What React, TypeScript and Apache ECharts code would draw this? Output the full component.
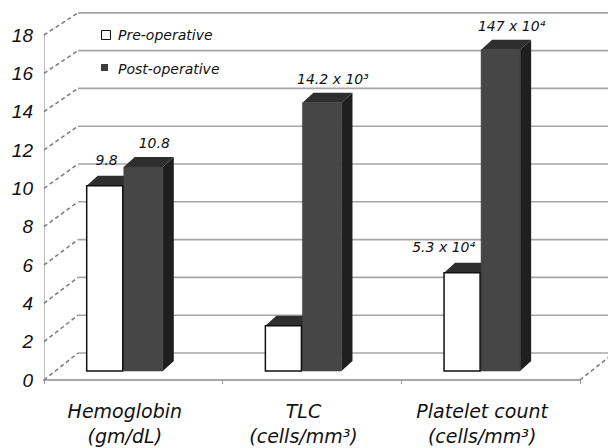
import React, { useEffect, useRef } from "react";
import * as echarts from "echarts";

const categories = ["Hemoglobin\n(gm/dL)", "TLC\n(cells/mm³)", "Platelet count\n(cells/mm³)"];
const seriesNames = ["Pre-operative", "Post-operative"];
const preOperative = [9.8, 2.4, 5.2];
const postOperative = [10.8, 14.2, 17.0];
const preLabels = ["9.8", "", "5.3 x 10⁴"];
const postLabels = ["10.8", "14.2 x 10³", "147 x 10⁴"];
const yTicks = [0, 2, 4, 6, 8, 10, 12, 14, 16, 18];

const FONT = '"DejaVu Sans", "Liberation Sans", sans-serif';
const AXIS_FONT = '"Liberation Sans", "DejaVu Sans", sans-serif';
const WALL_DX = 34;
const WALL_DY = -27;
const BACK_K = 0.986;
const BAR_DY = -9;
const BOX_DX = 11;
const BOX_DY = -10;

function wallItem(params: any, api: any) {
  const cs = params.coordSys;
  const v = api.value(1);
  const zero = api.coord([0, 0])[1];
  const fy = api.coord([0, v])[1];
  const bx = cs.x + WALL_DX;
  const by = zero + WALL_DY - (zero - fy) * BACK_K;
  const right = cs.x + cs.width + WALL_DX;
  const dashed = { stroke: "#7a7a7a", lineWidth: 1.5, lineDash: [4, 3], fill: null };
  const children: any[] = [
    { type: "line", shape: { x1: cs.x, y1: fy, x2: bx, y2: by }, style: dashed },
    { type: "line", shape: { x1: bx, y1: by, x2: right, y2: by }, style: { stroke: "#a6a6a6", lineWidth: 1.6 } },
  ];
  if (v === 0) {
    children.push({ type: "line", shape: { x1: cs.x + cs.width, y1: fy, x2: right, y2: by }, style: dashed });
  }
  return { type: "group", children };
}

function boxItem(isPre: boolean, labels: string[]) {
  return (params: any, api: any) => {
    const idx = api.value(0);
    const v = api.value(1);
    const [cx, zero] = api.coord([idx, 0]);
    const fy = api.coord([idx, v])[1];
    const band = api.size([1, 0])[0];
    const gc = cx - band * 0.048;
    const half = band * 0.213;
    const x0 = isPre ? gc - half : gc - 1;
    const x1 = isPre ? gc - 2 : gc + half;
    const yb = zero + BAR_DY;
    const yt = yb - (zero - fy) * BACK_K;
    const children: any[] = [
      {
        type: "polygon",
        shape: { points: [[x1, yt], [x1 + BOX_DX, yt + BOX_DY], [x1 + BOX_DX, yb + BOX_DY], [x1, yb]] },
        style: { fill: "#1f1f1f" },
      },
      {
        type: "polygon",
        shape: { points: [[x0, yt], [x1, yt], [x1 + BOX_DX, yt + BOX_DY], [x0 + BOX_DX, yt + BOX_DY]] },
        style: { fill: "#2e2e2e" },
      },
      {
        type: "rect",
        shape: { x: x0, y: yt, width: x1 - x0, height: yb - yt },
        style: isPre
          ? { fill: "#ffffff", stroke: "#111111", lineWidth: 1.5 }
          : { fill: "#464646", stroke: "#3a3a3a", lineWidth: 0.5 },
      },
    ];
    const text = labels[idx];
    if (text) {
      children.push({
        type: "text",
        style: {
          text,
          x: isPre ? x1 - 5 : (x0 + x1) / 2 + 11,
          y: yt + BOX_DY - (isPre ? 16 : 14),
          align: isPre ? "right" : "center",
          verticalAlign: "middle",
          fontSize: 14,
          fontStyle: "italic",
          fontFamily: FONT,
          fill: "#111",
        },
      });
    }
    return { type: "group", children };
  };
}

export default function App() {
  const ref = useRef<HTMLDivElement>(null);
  useEffect(() => {
    if (!ref.current) return;
    const chart = echarts.init(ref.current, undefined, { renderer: "svg" });
    const textBase = { fontFamily: FONT, fontStyle: "italic" as const, color: "#111" };
    chart.setOption({
      animation: false,
      backgroundColor: "#ffffff",
      grid: { left: 44, right: 28, top: 35, bottom: 67, containLabel: false },
      xAxis: {
        type: "category",
        data: categories,
        axisLine: { show: true, lineStyle: { color: "#a8a8a8", width: 2 } },
        axisTick: { show: true, length: 4, lineStyle: { color: "#999" } },
        axisLabel: { ...textBase, fontSize: 19, lineHeight: 25, margin: 18, padding: [0, 17, 0, 0] },
        splitLine: { show: false },
      },
      yAxis: {
        type: "value",
        min: 0,
        max: 18,
        interval: 2,
        axisLine: { show: true, lineStyle: { color: "#bdbdbd", width: 1 } },
        axisTick: { show: false },
        axisLabel: { fontFamily: AXIS_FONT, fontStyle: "italic", color: "#111", fontSize: 19, margin: 11 },
        splitLine: { show: false },
      },
      graphic: [
        {
          type: "rect",
          shape: { x: 101.5, y: 30.5, width: 9, height: 9 },
          style: { fill: "#fff", stroke: "#111", lineWidth: 1 },
        },
        {
          type: "rect",
          shape: { x: 101, y: 64, width: 7, height: 7 },
          style: { fill: "#3c3c3c" },
        },
        {
          type: "text",
          x: 118,
          y: 35,
          style: {
            text: seriesNames[0],
            fontSize: 14,
            fontStyle: "italic",
            fontFamily: FONT,
            fill: "#111",
            verticalAlign: "middle",
            textVerticalAlign: "middle",
          },
        },
        {
          type: "text",
          x: 118,
          y: 69,
          style: {
            text: seriesNames[1],
            fontSize: 14,
            fontStyle: "italic",
            fontFamily: FONT,
            fill: "#111",
            verticalAlign: "middle",
            textVerticalAlign: "middle",
          },
        },
      ],
      series: [
        {
          type: "custom",
          name: "walls",
          z: 1,
          silent: true,
          renderItem: wallItem,
          encode: { x: 0, y: 1 },
          data: yTicks.map((v) => [0, v]),
        },
        {
          type: "custom",
          name: seriesNames[0],
          z: 2,
          renderItem: boxItem(true, preLabels),
          encode: { x: 0, y: 1 },
          data: preOperative.map((v, i) => [i, v]),
        },
        {
          type: "custom",
          name: seriesNames[1],
          z: 3,
          renderItem: boxItem(false, postLabels),
          encode: { x: 0, y: 1 },
          data: postOperative.map((v, i) => [i, v]),
        },
      ],
    });
    return () => chart.dispose();
  }, []);
  return <div ref={ref} style={{ position: "absolute", left: 0, top: 0, width: 608, height: 448 }} />;
}
